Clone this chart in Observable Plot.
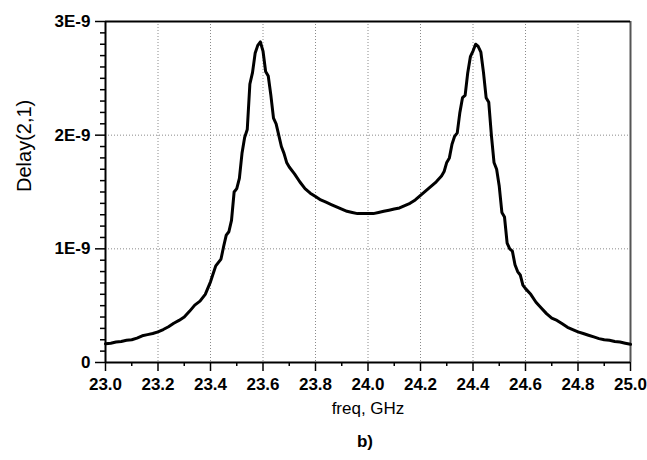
<!DOCTYPE html>
<html>
<head>
<meta charset="utf-8">
<script src="https://cdn.jsdelivr.net/npm/d3@7"></script>
<script src="https://cdn.jsdelivr.net/npm/@observablehq/plot@0.6"></script>
<style>
  html, body { margin: 0; padding: 0; background: white; }
</style>
</head>
<body>
<div id="chart"></div>
<script>
// Frequency (GHz)
const freq = [
  23.00, 23.02, 23.04, 23.06, 23.08, 23.10, 23.12, 23.14, 23.16, 23.18,
  23.20, 23.22, 23.24, 23.26, 23.28, 23.30, 23.32, 23.34, 23.36, 23.38,
  23.40, 23.41, 23.42, 23.44, 23.45, 23.46, 23.47, 23.48, 23.49, 23.50,
  23.51, 23.52, 23.53, 23.54, 23.55, 23.56, 23.57, 23.58, 23.59, 23.60,
  23.61, 23.62, 23.63, 23.64, 23.65, 23.66, 23.67, 23.68, 23.69, 23.70, 23.72,
  23.74, 23.76, 23.78, 23.80, 23.82, 23.84, 23.86, 23.88, 23.90, 23.92,
  23.94, 23.96, 23.98, 24.00, 24.02, 24.04, 24.06, 24.08, 24.10, 24.12,
  24.14, 24.16, 24.18, 24.20, 24.22, 24.24, 24.26, 24.28, 24.29, 24.30,
  24.31, 24.32, 24.33, 24.34, 24.35, 24.36, 24.37, 24.38, 24.39, 24.40,
  24.41, 24.42, 24.43, 24.44, 24.45, 24.46, 24.47, 24.48, 24.49, 24.50,
  24.51, 24.52, 24.53, 24.54, 24.55, 24.56, 24.57, 24.58, 24.59, 24.60,
  24.62, 24.64, 24.66, 24.68, 24.70, 24.72, 24.74, 24.76, 24.78, 24.80,
  24.82, 24.84, 24.86, 24.88, 24.90, 24.92, 24.94, 24.96, 24.98, 25.00
];
// Delay(2,1) in units of 1E-9 s
const delayE9 = [
  0.165, 0.17, 0.18, 0.185, 0.195, 0.20, 0.215, 0.235, 0.245, 0.255,
  0.27, 0.29, 0.315, 0.345, 0.37, 0.40, 0.45, 0.505, 0.54, 0.60,
  0.71, 0.78, 0.85, 0.91, 1.02, 1.12, 1.15, 1.25, 1.50, 1.53,
  1.62, 1.84, 1.98, 2.05, 2.45, 2.55, 2.72, 2.79, 2.82, 2.74,
  2.56, 2.52, 2.35, 2.15, 2.10, 2.00, 1.90, 1.84, 1.76, 1.72, 1.66,
  1.59, 1.53, 1.49, 1.46, 1.43, 1.41, 1.39, 1.37, 1.35, 1.33,
  1.32, 1.31, 1.31, 1.31, 1.31, 1.32, 1.33, 1.34, 1.35, 1.36,
  1.38, 1.40, 1.43, 1.47, 1.51, 1.55, 1.59, 1.64, 1.68, 1.76,
  1.80, 1.92, 1.99, 2.02, 2.20, 2.33, 2.35, 2.55, 2.69, 2.74,
  2.80, 2.78, 2.73, 2.55, 2.33, 2.29, 2.00, 1.76, 1.70, 1.55,
  1.32, 1.28, 1.05, 1.00, 0.98, 0.86, 0.80, 0.77, 0.68, 0.65,
  0.60, 0.53, 0.48, 0.43, 0.39, 0.37, 0.34, 0.31, 0.29, 0.27,
  0.255, 0.24, 0.225, 0.21, 0.20, 0.195, 0.185, 0.18, 0.17, 0.16
];
const xTicks = [23.0, 23.2, 23.4, 23.6, 23.8, 24.0, 24.2, 24.4, 24.6, 24.8, 25.0];
const xMinor = [23.1, 23.3, 23.5, 23.7, 23.9, 24.1, 24.3, 24.5, 24.7, 24.9];
const xGridLines = [23.2, 23.4, 23.6, 23.8, 24.0, 24.2, 24.4, 24.6, 24.8];
const yTicks = [0, 1e-9, 2e-9, 3e-9];
const yTickLabels = ["0", "1E-9", "2E-9", "3E-9"];
const yMinor = [0.1,0.2,0.3,0.4,0.5,0.6,0.7,0.8,0.9,1.1,1.2,1.3,1.4,1.5,1.6,1.7,1.8,1.9,2.1,2.2,2.3,2.4,2.5,2.6,2.7,2.8,2.9].map(v => v * 1e-9);
const yGridLines = [1e-9, 2e-9];
const xLabel = "freq, GHz";
const yLabel = "Delay(2,1)";
const caption = "b)";

const data = freq.map((f, i) => ({freq: f, delay: delayE9[i] * 1e-9}));

const chart = Plot.plot({
  width: 647,
  height: 460,
  marginLeft: 105,
  marginRight: 17,
  marginTop: 21,
  marginBottom: 98,
  x: {domain: [23, 25]},
  y: {domain: [0, 3e-9]},
  style: {
    fontFamily: "'Liberation Sans', Arial, Helvetica, sans-serif",
    fontSize: "17px",
    fontWeight: "bold",
    background: "white",
    color: "black"
  },
  marks: [
    Plot.gridX(xGridLines, {stroke: "#8a8a8a", strokeOpacity: 1, strokeDasharray: "1,2"}),
    Plot.gridY(yGridLines, {stroke: "#8a8a8a", strokeOpacity: 1, strokeDasharray: "1,2"}),
    Plot.axisX(xTicks, {tickSize: 9, tickPadding: 6, strokeWidth: 1.5, tickFormat: d => d.toFixed(1), label: null, fontWeight: "bold", fontSize: 17}),
    Plot.axisX(xMinor, {tickSize: 4, strokeWidth: 1.5, tickFormat: () => "", label: null}),
    Plot.axisY(yTicks, {tickSize: 10, tickPadding: 5, strokeWidth: 1.5, tickFormat: d => yTickLabels[yTicks.indexOf(d)], label: null, fontWeight: "bold", fontSize: 17}),
    Plot.axisY(yMinor, {tickSize: 5, strokeWidth: 1.5, tickFormat: () => "", label: null}),
    Plot.ruleX([25], {stroke: "#555", strokeWidth: 2}),
    Plot.ruleY([3e-9], {stroke: "black", strokeWidth: 2.2}),
    Plot.ruleX([23], {stroke: "black", strokeWidth: 2}),
    Plot.ruleY([0], {stroke: "black", strokeWidth: 2}),
    Plot.line(data, {x: "freq", y: "delay", stroke: "black", strokeWidth: 3}),
    Plot.text([xLabel], {frameAnchor: "bottom", dy: 51.5, fontWeight: "normal", fontSize: 17}),
    Plot.text([caption], {frameAnchor: "bottom", dx: -3, dy: 84, fontWeight: "bold", fontSize: 17}),
    Plot.text([yLabel], {frameAnchor: "left", dx: -81, rotate: -90, fontWeight: "normal", fontSize: 20})
  ]
});
document.getElementById("chart").appendChild(chart);
</script>
</body>
</html>
